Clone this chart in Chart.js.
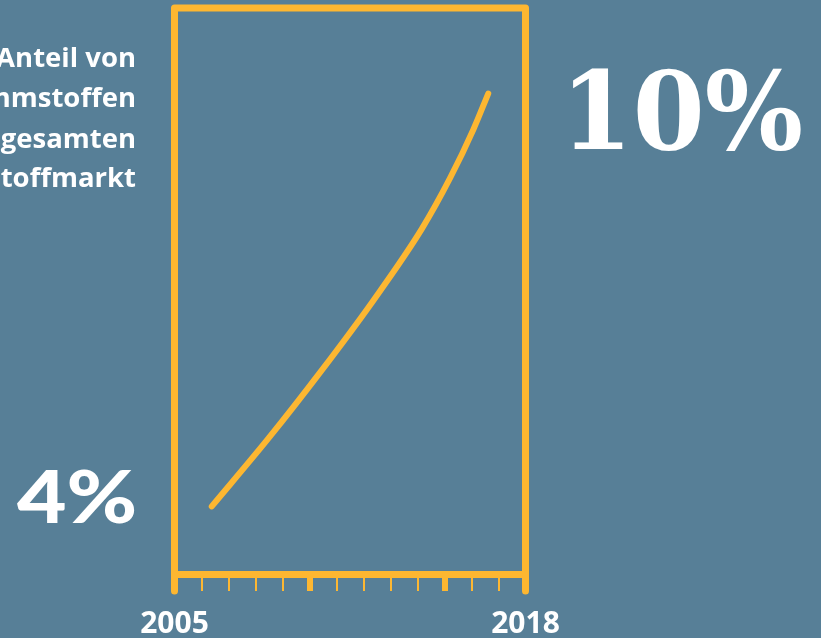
<!DOCTYPE html>
<html lang="de">
<head>
<meta charset="utf-8">
<title>Anteil von Dämmstoffen</title>
<script src="https://cdn.jsdelivr.net/npm/chart.js@4"></script>
<style>
  html, body { margin: 0; padding: 0; background: #577f97; overflow: hidden; }
  #wrap { width: 821px; height: 638px; }
</style>
</head>
<body>
<div id="wrap"><canvas id="myChart" width="821" height="638"></canvas></div>
<script>
// data
const years = [2006.38, 2008.47, 2010.45, 2012.36, 2014.16, 2015.2, 2016.07, 2016.62]
const shares = [3.98, 4.96, 5.95, 6.96, 8.0, 8.73, 9.44, 9.96]
const tickYears = [2005, 2018]
const majorYears = [2005, 2010, 2015, 2018]
const startLabel = '4%'
const endLabel = '10%'
const titleLines = ['Der Anteil von', 'Dämmstoffen', 'am gesamten', 'Baustoffmarkt']

const yellow = '#fdb731'
const white = '#ffffff'

// draw a text so that its ink fills the given box
function drawFit(ctx, text, weight, family, left, top, right, bottom) {
  ctx.save()
  ctx.font = weight + ' 100px ' + family
  let m = ctx.measureText(text)
  let inkH = m.actualBoundingBoxAscent + m.actualBoundingBoxDescent
  let inkW = m.actualBoundingBoxLeft + m.actualBoundingBoxRight
  let sy = (bottom - top) / inkH
  let sx = (right - left) / inkW
  ctx.translate(left, bottom)
  ctx.scale(sx, sy)
  ctx.textAlign = 'left'
  ctx.textBaseline = 'alphabetic'
  ctx.fillStyle = white
  ctx.fillText(text, m.actualBoundingBoxLeft, -m.actualBoundingBoxDescent)
  ctx.restore()
}

const framePlugin = {
  id: 'frame',
  beforeDraw(chart) {
    const ctx = chart.ctx
    ctx.save()
    ctx.fillStyle = '#577f97'
    ctx.fillRect(0, 0, chart.width, chart.height)
    ctx.restore()
  },
  afterDraw(chart) {
    const ctx = chart.ctx
    const x = chart.scales.x
    const a = chart.chartArea
    const l = x.getPixelForValue(2005)
    const r = x.getPixelForValue(2018)

    // frame left, top, right
    ctx.save()
    ctx.strokeStyle = yellow
    ctx.lineWidth = 7
    ctx.lineJoin = 'round'
    ctx.lineCap = 'round'
    ctx.beginPath()
    ctx.moveTo(l, a.bottom + 17)
    ctx.lineTo(l, a.top)
    ctx.lineTo(r, a.top)
    ctx.lineTo(r, a.bottom + 17)
    ctx.stroke()
    ctx.restore()

    // text on the left
    ctx.save()
    ctx.fillStyle = white
    ctx.font = 'bold 27.5px "Open Sans"'
    ctx.textAlign = 'right'
    ctx.textBaseline = 'alphabetic'
    let baselines = [67, 107, 148, 187]
    titleLines.forEach((t, i) => ctx.fillText(t, 136, baselines[i]))
    ctx.restore()

    // big numbers
    drawFit(ctx, startLabel, '900', 'Lato', 17, 471, 135, 524)
    drawFit(ctx, endLabel, 'bold', '"DejaVu Serif"', 573, 68, 801, 150)
  }
}

new Chart('myChart', {
  type: 'line',
  data: {
    datasets: [{
      data: years.map((y, i) => ({x: y, y: shares[i]})),
      borderColor: yellow,
      borderWidth: 6,
      borderCapStyle: 'round',
      cubicInterpolationMode: 'monotone',
      pointRadius: 0,
      fill: false
    }]
  },
  options: {
    responsive: false,
    animation: false,
    events: [],
    layout: {padding: {left: 174.5, right: 295.5, top: 8, bottom: 0}},
    plugins: {legend: {display: false}, title: {display: false}, tooltip: {enabled: false}},
    scales: {
      x: {
        type: 'linear',
        min: 2005,
        max: 2018,
        afterFit(scale) { scale.height = 64 },
        border: {display: true, color: yellow, width: 7},
        grid: {
          drawOnChartArea: false,
          drawTicks: true,
          tickLength: 17,
          color: yellow,
          lineWidth: c => majorYears.includes(c.tick && c.tick.value) ? 6 : 2
        },
        ticks: {
          stepSize: 1,
          autoSkip: false,
          maxRotation: 0,
          padding: 15,
          color: white,
          font: {family: 'Open Sans', weight: 'bold', size: 30},
          callback: v => tickYears.includes(v) ? String(v) : ''
        }
      },
      y: {
        display: false,
        min: 3,
        max: 11.2
      }
    }
  },
  plugins: [framePlugin]
})
</script>
</body>
</html>
